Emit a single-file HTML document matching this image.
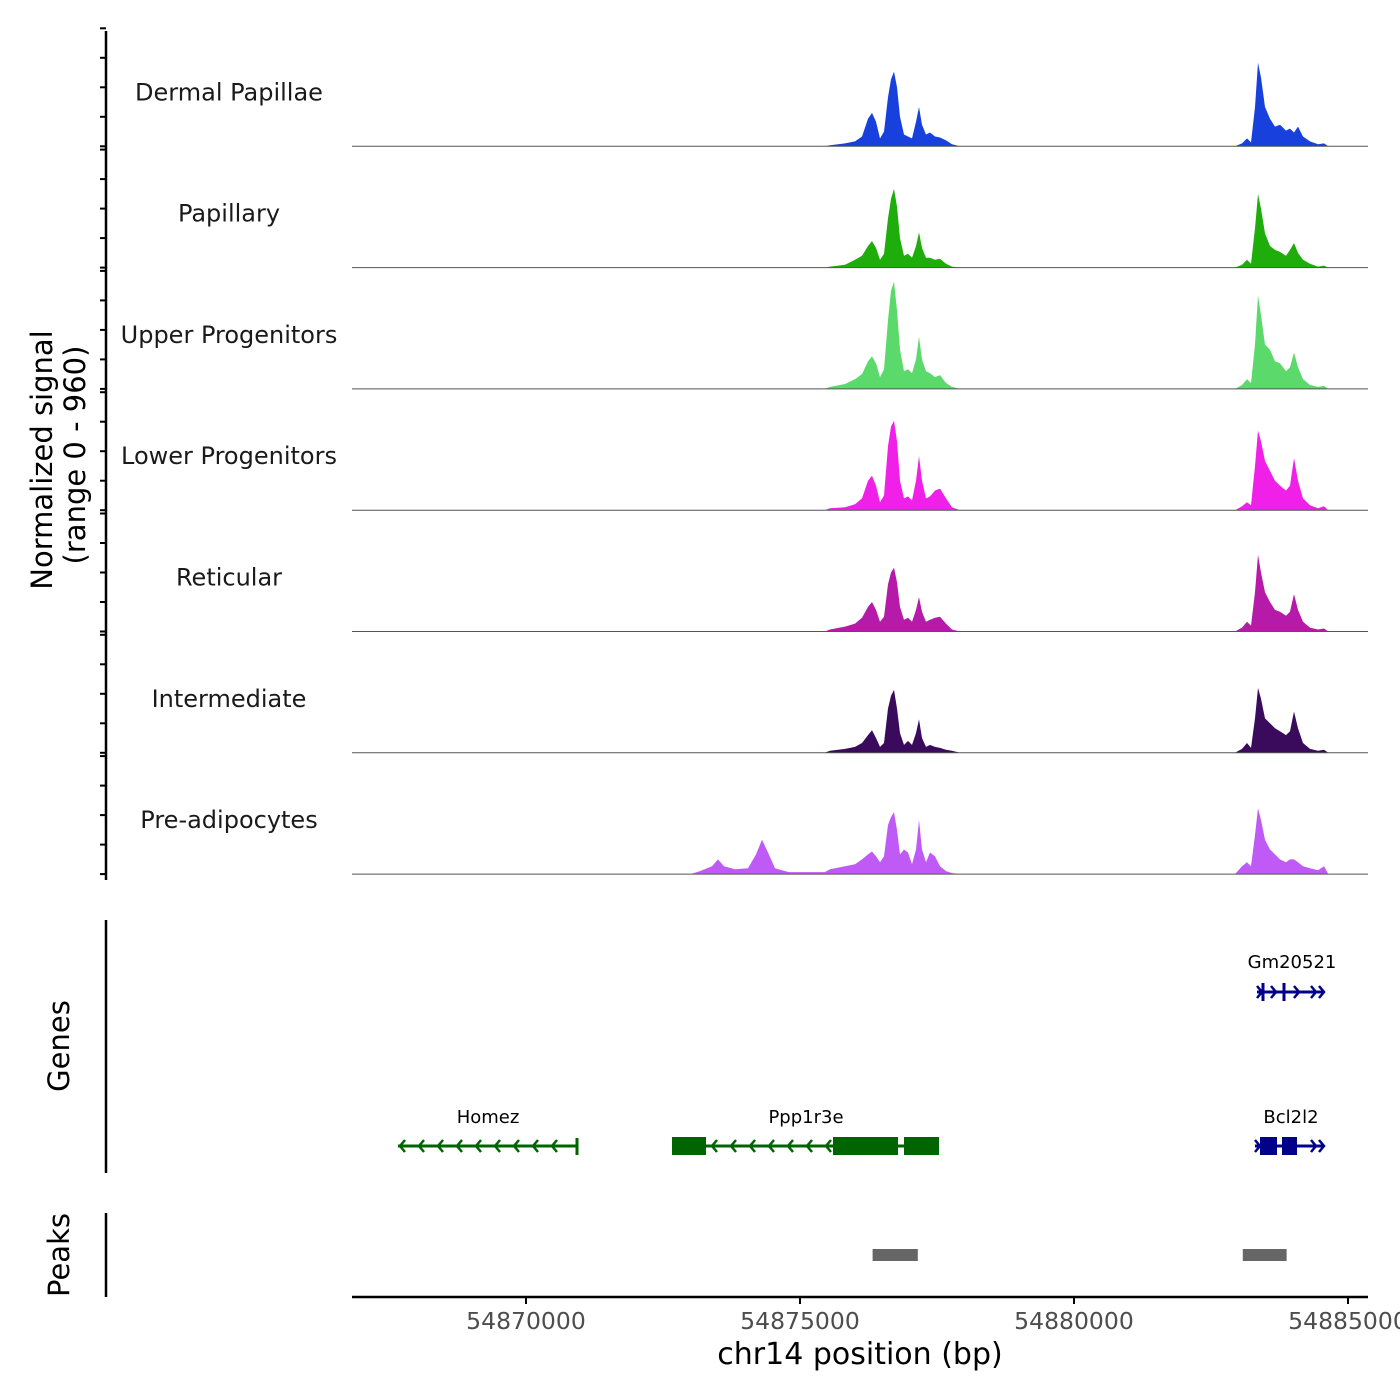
<!DOCTYPE html>
<html><head><meta charset="utf-8"><style>
html,body{margin:0;padding:0;background:#fff}
svg{display:block;font-family:"DejaVu Sans","Liberation Sans",sans-serif}
</style></head><body>
<svg id="chart" width="1400" height="1400" viewBox="0 0 1400 1400">
<g id="tracks"></g>
<g id="yaxis"></g>
<text transform="translate(52,460) rotate(-90)" text-anchor="middle" font-size="29" fill="#000">Normalized signal</text>
<text transform="translate(85,455) rotate(-90)" text-anchor="middle" font-size="29" fill="#000">(range 0 - 960)</text>
<line x1="106" y1="920" x2="106" y2="1173" stroke="#000" stroke-width="2.5"/>
<text transform="translate(69,1046) rotate(-90)" text-anchor="middle" font-size="29">Genes</text>
<line x1="106" y1="1213" x2="106" y2="1297" stroke="#000" stroke-width="2.5"/>
<text transform="translate(69,1255) rotate(-90)" text-anchor="middle" font-size="29">Peaks</text>
<g id="genes"></g>
<g id="peaks"></g>
<g id="xaxis"></g>
<text x="860" y="1364" text-anchor="middle" font-size="30">chr14 position (bp)</text>
</svg>
<script>
const positions = [54866825,54873000,
54873175,54873394,54873504,54873613,54873814,54874051,54874197,54874307,54874416,54874544,54874726,
54874800,54875450,
54875548,54875821,54876004,54876131,54876241,54876314,54876387,54876460,54876533,54876606,54876661,54876715,54876770,54876825,54876898,54876971,54877044,54877117,54877172,54877226,54877299,54877372,54877464,54877555,54877664,54877774,54877920,
54882850,
54882938,54883066,54883157,54883230,54883303,54883358,54883412,54883485,54883577,54883668,54883759,54883869,54883942,54884015,54884088,54884179,54884307,54884453,54884562,
54884640,54885365];
const trackNames = ["Dermal Papillae","Papillary","Upper Progenitors","Lower Progenitors","Reticular","Intermediate","Pre-adipocytes"];
const trackColors = ["#1840dd","#1fad0b","#5bd96b","#f020e8","#b51aa9","#3a0b5c","#c05af6"];
const sigDermal = [0,0, 0,0,0,0,0,0,0,0,0,0,0, 0,0,
8,24,40,80,224,272,200,64,120,400,544,608,480,240,96,80,64,200,320,176,96,112,80,72,48,16,0, 0,
0,24,64,32,320,680,560,320,224,160,176,128,144,112,160,80,40,16,24, 0,0];
const sigPapillary = [0,0, 0,0,0,0,0,0,0,0,0,0,0, 0,0,
8,24,64,96,176,216,160,64,112,400,560,640,496,240,96,112,80,176,288,160,80,80,64,72,32,8,0, 0,
0,24,64,32,320,600,480,280,176,144,128,96,144,200,120,64,32,8,16, 0,0];
const sigUpper = [0,0, 0,0,0,0,0,0,0,0,0,0,0, 0,0,
16,40,80,120,224,264,208,96,160,560,800,872,640,320,144,160,128,240,424,240,144,128,96,112,48,16,0, 0,
0,32,80,48,360,760,600,360,320,224,208,144,176,296,176,80,32,16,24, 0,0];
const sigLower = [0,0, 0,0,0,0,0,0,0,0,0,0,0, 0,0,
16,24,48,96,240,280,200,64,120,520,680,728,560,240,96,112,80,240,440,240,96,112,160,176,96,24,0, 0,
0,32,64,40,360,648,560,400,320,240,200,160,200,424,240,96,40,16,32, 0,0];
const sigReticular = [0,0, 0,0,0,0,0,0,0,0,0,0,0, 0,0,
16,40,64,112,200,240,176,80,120,384,480,520,400,200,96,112,80,176,280,160,80,96,112,120,64,16,0, 0,
0,32,80,48,320,624,480,320,240,176,160,128,160,304,176,80,32,16,24, 0,0];
const sigIntermediate = [0,0, 0,0,0,0,0,0,0,0,0,0,0, 0,0,
16,32,48,80,144,184,120,48,80,360,464,512,360,160,64,96,64,160,272,120,48,64,48,40,24,16,0, 0,
0,32,80,40,280,528,440,280,240,200,176,144,176,336,200,80,32,16,24, 0,0];
const sigPreadipocytes = [0,0, 24,64,120,64,40,48,160,280,176,48,24, 16,16,
40,64,80,120,160,184,144,96,144,400,464,504,360,160,200,176,80,200,440,200,96,176,144,64,24,8,0, 0,
0,64,96,64,320,536,440,280,200,160,120,96,120,120,96,64,48,32,64, 0,0];
const signals = [sigDermal,sigPapillary,sigUpper,sigLower,sigReticular,sigIntermediate,sigPreadipocytes];
const xTicks = [54870000,54875000,54880000,54885000];
const peakStarts = [54876325,54883080];
const peakEnds = [54877150,54883880];
const yMax = 960;

const X0=352, X1=1368, BP0=54866825, BP1=54885365;
function xScale(bp){return X0+(bp-BP0)/(BP1-BP0)*(X1-X0);}
const trackTop=28, trackH=121.3, plotH=118;
function baseY(i){return trackTop+trackH*(i+1)-3;}
function yScale(v,i){return baseY(i)-v/yMax*plotH;}
const NS="http://www.w3.org/2000/svg";
function mk(tag,attrs,parent){const e=document.createElementNS(NS,tag);for(const k in attrs)e.setAttribute(k,attrs[k]);parent.appendChild(e);return e;}

const tracks=document.getElementById('tracks');
const yaxis=document.getElementById('yaxis');
mk('line',{x1:106,y1:31,x2:106,y2:880,stroke:'#000','stroke-width':2.5},yaxis);
signals.forEach((sig,i)=>{
  const b=baseY(i);
  let d='M'+xScale(positions[0])+','+b;
  positions.forEach((p,j)=>{d+=' L'+xScale(p).toFixed(1)+','+yScale(sig[j],i).toFixed(1);});
  d+=' L'+xScale(positions[positions.length-1])+','+b+' Z';
  const area=mk('path',{d:d,fill:trackColors[i]},tracks);
  
  
  const bl=mk('line',{x1:X0,x2:X1,y1:b,y2:b,stroke:'#555','stroke-width':1},tracks);
  
  
  const lbl=mk('text',{x:229,y:b-46,'text-anchor':'middle','font-size':24,fill:'#1a1a1a'},tracks);
  lbl.textContent=trackNames[i];
  
  
  for(let t=0;t<=yMax;t+=240){
    const y=yScale(t,i);
    const tk=mk('line',{x1:100,x2:106,y1:y,y2:y,stroke:'#000','stroke-width':2},yaxis);
    
    
  }
});

const genes=document.getElementById('genes');
const green='#006400', navy='#00008b';
function gline(x1,x2,y,c){mk('line',{x1:x1,x2:x2,y1:y,y2:y,stroke:c,'stroke-width':3},genes);}
function box(x1,x2,y,c,h){mk('rect',{x:x1,y:y-h/2,width:x2-x1,height:h,fill:c},genes);}
function chev(x,y,c,dir){mk('polyline',{points:`${x+dir*-5},${y-6} ${x},${y} ${x+dir*-5},${y+6}`,fill:'none',stroke:c,'stroke-width':2.5},genes);}
function glabel(x,y,t){const e=mk('text',{x:x,y:y,'text-anchor':'middle','font-size':18},genes);e.textContent=t;}
gline(398,577,1146,green); mk('line',{x1:577,x2:577,y1:1138,y2:1155,stroke:green,'stroke-width':3},genes);
for(let x=400;x<570;x+=19) chev(x,1146,green,-1);
glabel(488,1123,'Homez');
gline(672,939,1146,green);
box(672,706,1146,green,18); box(833,898,1146,green,18); box(904,939,1146,green,18);
for(let x=712;x<830;x+=19) chev(x,1146,green,-1);
glabel(806,1123,'Ppp1r3e');
gline(1255,1324,1146,navy); box(1260,1277,1146,navy,18); box(1282,1297,1146,navy,18);
chev(1260,1146,navy,1); chev(1316,1146,navy,1); chev(1324,1146,navy,1);
glabel(1291,1123,'Bcl2l2');
gline(1257,1324,992,navy);
mk('line',{x1:1263,x2:1263,y1:983,y2:1001,stroke:navy,'stroke-width':3},genes);
mk('line',{x1:1284,x2:1284,y1:983,y2:1001,stroke:navy,'stroke-width':3},genes);
chev(1262,992,navy,1); chev(1276,992,navy,1); chev(1299,992,navy,1); chev(1316,992,navy,1); chev(1324,992,navy,1);
glabel(1292,968,'Gm20521');

const peaks=document.getElementById('peaks');
peakStarts.forEach((s,i)=>{
  const r=mk('rect',{x:xScale(s),y:1249,width:xScale(peakEnds[i])-xScale(s),height:12,fill:'#666'},peaks);
  
  
});

const xaxis=document.getElementById('xaxis');
mk('line',{x1:X0,x2:X1,y1:1297,y2:1297,stroke:'#000','stroke-width':2.5},xaxis);
xTicks.forEach(t=>{
  const x=xScale(t);
  const tk=mk('line',{x1:x,x2:x,y1:1297,y2:1304,stroke:'#000','stroke-width':2},xaxis);
  
  
  const l=mk('text',{x:x,y:1329,'text-anchor':'middle','font-size':23.5,fill:'#4d4d4d'},xaxis);
  l.textContent=String(t);
  
  
});
</script>
</body></html>
